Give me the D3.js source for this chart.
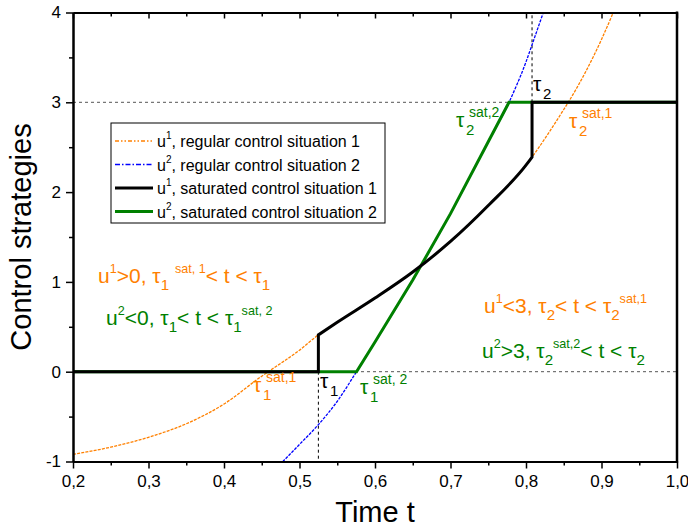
<!DOCTYPE html>
<html>
<head>
<meta charset="UTF-8">
<title>Control strategies</title>
<script src="https://d3js.org/d3.v7.min.js"></script>
<style>
  body { margin: 0; background: #fff; }
  svg { font-family: "Liberation Sans", Arial, sans-serif; }
  .axis path, .axis line { stroke: #000; }
</style>
</head>
<body>
<svg width="688" height="532"></svg>
<script>
// values
const tau1 = 0.525, tau2 = 0.808;

// u1, regular control situation 1
const tU1 = [0.20, 0.25, 0.30, 0.35, 0.40, 0.45, 0.4587, 0.50, 0.525, 0.55, 0.60, 0.65, 0.70, 0.75, 0.80, 0.808, 0.85, 0.856, 0.90, 0.9155, 0.925];
const u1Regular = [-0.92, -0.84, -0.73, -0.58, -0.36, -0.05, 0, 0.24, 0.41, 0.55, 0.82, 1.11, 1.45, 1.85, 2.30, 2.39, 2.92, 3.0, 3.7, 4.0, 4.2];

// u2, regular control situation 2
const tU2 = [0.47, 0.478, 0.50, 0.525, 0.55, 0.5755, 0.60, 0.65, 0.70, 0.75, 0.7775, 0.80, 0.808, 0.825, 0.83];
const u2Regular = [-1.07, -1, -0.81, -0.59, -0.33, 0, 0.33, 1.02, 1.76, 2.56, 3.0, 3.45, 3.64, 4.05, 4.17];

// saturated versions (bounded to [0, 3])
const tU1Sat = [0.20, 0.525, 0.525, 0.55, 0.60, 0.65, 0.70, 0.75, 0.80, 0.808, 0.808, 1.00];
const u1Saturated = [0, 0, 0.41, 0.55, 0.82, 1.11, 1.45, 1.85, 2.30, 2.39, 3, 3];
const tU2Sat = [0.20, 0.5755, 0.60, 0.65, 0.70, 0.75, 0.7775, 1.00];
const u2Saturated = [0, 0, 0.33, 1.02, 1.76, 2.56, 3, 3];

const xTicks = [0.2, 0.3, 0.4, 0.5, 0.6, 0.7, 0.8, 0.9, 1.0];
const yTicks = [-1, 0, 1, 2, 3, 4];

const legendItems = [
  { sup: "1", label: ", regular control situation 1", color: "#ff8000", width: 1.3, dash: "4,2,1.5,2,1.5,2" },
  { sup: "2", label: ", regular control situation 2", color: "#0000ff", width: 1.3, dash: "5,2,1.5,2" },
  { sup: "1", label: ", saturated control situation 1", color: "#000", width: 3, dash: null },
  { sup: "2", label: ", saturated control situation 2", color: "#008000", width: 3, dash: null }
];

const svg = d3.select("svg");
const pLeft = 73, pRight = 677, pTop = 12.5, pBottom = 461.5;

const x = d3.scaleLinear().domain([0.2, 1.0]).range([pLeft, pRight]);
const y = d3.scaleLinear().domain([-1, 4]).range([pBottom, pTop]);

svg.append("defs").append("clipPath").attr("id", "plot")
  .append("rect").attr("x", pLeft).attr("y", pTop)
  .attr("width", pRight - pLeft).attr("height", pBottom - pTop);

const plot = svg.append("g").attr("clip-path", "url(#plot)");

// dashed guide lines
const guides = [
  [[0.2, 3], [1.0, 3], "#555"],
  [[0.2, 0], [1.0, 0], "#555"],
  [[tau1, 0], [tau1, -1], "#000"],
  [[tau2, 3], [tau2, 4], "#000"]
];
guides.forEach(g => {
  plot.append("line")
    .attr("x1", x(g[0][0])).attr("y1", y(g[0][1]))
    .attr("x2", x(g[1][0])).attr("y2", y(g[1][1]))
    .attr("stroke", g[2]).attr("stroke-width", 1)
    .attr("stroke-dasharray", "3,3");
});

// path that is smooth within runs of increasing t and jumps vertically between them
function seriesPath(ts, us, curve) {
  const pts = ts.map((t, i) => [x(t), y(us[i])]);
  const runs = [[pts[0]]];
  for (let i = 1; i < pts.length; i++) {
    if (ts[i] === ts[i - 1]) runs.push([]);
    runs[runs.length - 1].push(pts[i]);
  }
  const line = d3.line().curve(curve);
  return runs.map((r, i) => {
    const s = r.length > 1 ? line(r) : `M${r[0][0]},${r[0][1]}`;
    return i === 0 ? s : "L" + s.slice(1);
  }).join("");
}

function drawSeries(ts, us, color, width, dash, curve) {
  plot.append("path")
    .attr("d", seriesPath(ts, us, curve))
    .attr("fill", "none")
    .attr("stroke", color)
    .attr("stroke-width", width)
    .attr("stroke-dasharray", dash)
    .attr("stroke-linejoin", "miter");
}

drawSeries(tU1, u1Regular, "#ff8000", 1.3, "3,1.2", d3.curveMonotoneX);
drawSeries(tU2, u2Regular, "#0000ff", 1.3, "3,1.2", d3.curveMonotoneX);
drawSeries(tU2Sat, u2Saturated, "#008000", 3, null, d3.curveLinear);
drawSeries(tU1Sat, u1Saturated, "#000", 3, null, d3.curveMonotoneX);

// axes
const xMinor = d3.range(0.25, 1.0, 0.1);
const yMinor = d3.range(-0.5, 4, 1);

const fmtX = d => d3.format(".1f")(d).replace(".", ",");

svg.append("g").attr("class", "axis")
  .attr("transform", `translate(0,${pBottom})`)
  .call(d3.axisBottom(x).tickValues(xTicks).tickFormat(fmtX).tickSize(7).tickSizeOuter(0).tickPadding(6));
svg.append("g").attr("class", "axis")
  .attr("transform", `translate(0,${pBottom})`)
  .call(d3.axisBottom(x).tickValues(xMinor).tickFormat("").tickSize(4).tickSizeOuter(0));

svg.append("g").attr("class", "axis")
  .attr("transform", `translate(${pLeft},0)`)
  .call(d3.axisLeft(y).tickValues(yTicks).tickFormat(d => String(d)).tickSize(7).tickSizeOuter(0).tickPadding(5));
svg.append("g").attr("class", "axis")
  .attr("transform", `translate(${pLeft},0)`)
  .call(d3.axisLeft(y).tickValues(yMinor).tickFormat("").tickSize(4).tickSizeOuter(0));

// top axis, ticks pointing inward
svg.append("g").attr("class", "axis")
  .attr("transform", `translate(0,${pTop})`)
  .call(d3.axisBottom(x).tickValues(xTicks).tickFormat("").tickSize(6).tickSizeOuter(0));
svg.append("g").attr("class", "axis")
  .attr("transform", `translate(0,${pTop})`)
  .call(d3.axisBottom(x).tickValues(xMinor).tickFormat("").tickSize(4).tickSizeOuter(0));

// right border
svg.append("line").attr("x1", pRight).attr("x2", pRight).attr("y1", pTop - 1).attr("y2", pBottom + 1)
  .attr("stroke", "#000").attr("stroke-width", 2.5);

svg.selectAll(".axis path").attr("stroke-width", 2);
svg.selectAll(".axis line").attr("stroke-width", 1.5);
svg.selectAll(".axis text").attr("font-size", 17).attr("fill", "#000")
  .attr("font-family", "Liberation Sans, Arial, sans-serif");

// axis titles
svg.append("text").attr("x", (pLeft + pRight) / 2).attr("y", 522)
  .attr("text-anchor", "middle").attr("font-size", 29).text("Time t");
svg.append("text").attr("transform", `translate(31,${(pTop + pBottom) / 2}) rotate(-90)`)
  .attr("text-anchor", "middle").attr("font-size", 29).text("Control strategies");

// rich text: segments [text, kind] with kind "", "sup" or "sub"
function rich(px, py, parts, color, size) {
  const t = svg.append("text").attr("x", px).attr("y", py)
    .attr("fill", color).attr("font-size", size);
  let off = 0;
  parts.forEach(p => {
    const kind = p[1] || "";
    let target = 0, fs = size;
    if (kind === "sup") { target = -size * 0.5; fs = size * 0.6; }
    if (kind === "sub") { target = size * 0.35; fs = size * 0.72; }
    t.append("tspan").attr("dy", target - off).attr("font-size", fs).text(p[0]);
    off = target;
  });
  return t;
}

const orange = "#ff8000", green = "#008000";

// region annotations
rich(98, 283, [["u"], ["1", "sup"], [">0, τ"], ["1", "sub"], [" "], ["sat, 1", "sup"], ["< t < τ"], ["1", "sub"]], orange, 21);
rich(106, 325, [["u"], ["2", "sup"], ["<0, τ"], ["1", "sub"], ["< t < τ"], ["1", "sub"], ["sat, 2", "sup"]], green, 21);
rich(484, 313, [["u"], ["1", "sup"], ["<3, τ"], ["2", "sub"], ["< t < τ"], ["2", "sub"], ["sat,1", "sup"]], orange, 21);
rich(482, 358, [["u"], ["2", "sup"], [">3, τ"], ["2", "sub"], ["sat,2", "sup"], ["< t < τ"], ["2", "sub"]], green, 21);

// switching time labels
function tauLabel(px, py, sub, sup, color) {
  const g = svg.append("g").attr("fill", color);
  g.append("text").attr("x", px).attr("y", py).attr("font-size", 21).text("τ");
  g.append("text").attr("x", px + 10).attr("y", py + 8).attr("font-size", 15).text(sub);
  if (sup) g.append("text").attr("x", px + 13).attr("y", py - 10).attr("font-size", 14).text(sup);
}
tauLabel(533, 91, "2", null, "#000");
tauLabel(456, 127, "2", "sat,2", green);
tauLabel(569, 128, "2", "sat,1", orange);
tauLabel(320, 388, "1", null, "#000");
tauLabel(253, 392, "1", "sat,1", orange);
tauLabel(360, 394, "1", "sat, 2", green);

// legend
const lg = svg.append("g").attr("transform", "translate(111,123)");
lg.append("rect").attr("width", 274).attr("height", 100)
  .attr("fill", "#fff").attr("stroke", "#000").attr("stroke-width", 1);
legendItems.forEach((d, i) => {
  const cy = 18 + i * 23.5;
  lg.append("line").attr("x1", 4).attr("x2", 42).attr("y1", cy).attr("y2", cy)
    .attr("stroke", d.color).attr("stroke-width", d.width)
    .attr("stroke-dasharray", d.dash);
  const t = lg.append("text").attr("x", 46).attr("y", cy + 6).attr("font-size", 16);
  t.append("tspan").text("u");
  t.append("tspan").attr("dy", -8).attr("font-size", 10).text(d.sup);
  t.append("tspan").attr("dy", 8).text(d.label);
});
</script>
</body>
</html>
